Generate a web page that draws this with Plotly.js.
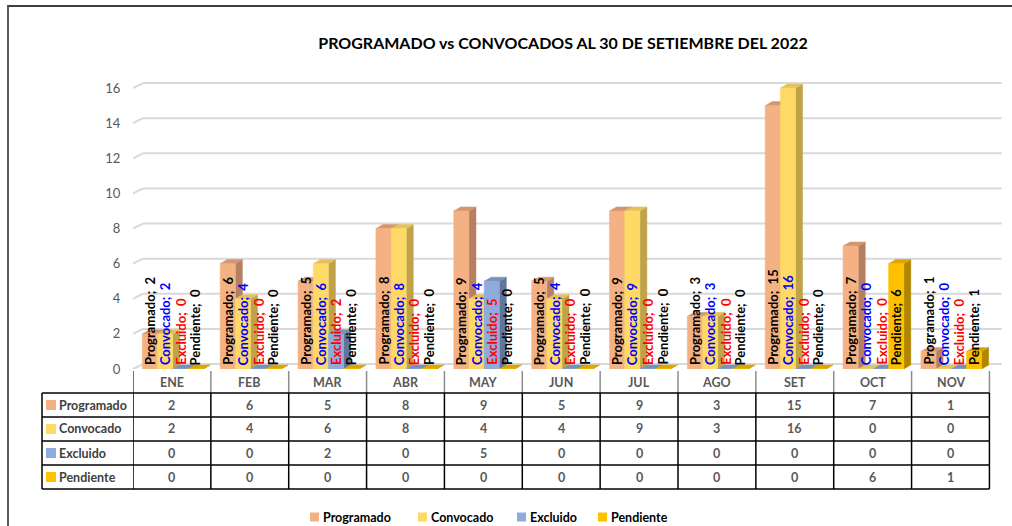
<!DOCTYPE html>
<html>
<head>
<meta charset="utf-8">
<script src="https://cdn.plot.ly/plotly-3.0.1.min.js"></script>
<style>
  html, body { margin: 0; padding: 0; background: #ffffff; }
  #wrap { position: relative; width: 1012px; height: 526px; overflow: hidden; }
  #chart { width: 1012px; height: 526px; }
  #frame { position: absolute; left: 7px; top: 5px; width: 1100px; height: 600px;
           border-top: 2px solid #3f3f3f; border-left: 2px solid #5a5a5a; pointer-events: none; }
</style>
</head>
<body>
<div id="wrap">
  <div id="chart"></div>
  <div id="frame"></div>
</div>
<script>
// ---------------- data ----------------
const months = ['ENE','FEB','MAR','ABR','MAY','JUN','JUL','AGO','SET','OCT','NOV'];
const programado = [2, 6, 5, 8, 9, 5, 9, 3, 15, 7, 1];
const convocado  = [2, 4, 6, 8, 4, 4, 9, 3, 16, 0, 0];
const excluido   = [0, 0, 2, 0, 5, 0, 0, 0, 0, 0, 0];
const pendiente  = [0, 0, 0, 0, 0, 0, 0, 0, 0, 6, 1];
const seriesNames = ['Programado', 'Convocado', 'Excluido', 'Pendiente'];
const yTickVals = [0, 2, 4, 6, 8, 10, 12, 14, 16];
const chartTitle = 'PROGRAMADO vs CONVOCADOS AL 30 DE SETIEMBRE DEL 2022';

// ---------------- styling ----------------
const seriesValues = [programado, convocado, excluido, pendiente];
const frontColors = ['#F4B183', '#FFD966', '#8FAADC', '#FFC000'];
const topColors   = ['#D39672', '#E3C25A', '#7890BA', '#DDA600'];
const sideColors  = ['#B58062', '#BFA24A', '#61769B', '#B08600'];
const labelColors = ['#000000', '#0000FF', '#FF0000', '#000000'];
const FONT = 'Lato, "Liberation Sans", sans-serif';

const W = 1012, H = 526;
const M = {l: 133, r: 7, t: 67, b: 157};
const plotW = W - M.l - M.r, plotH = H - M.t - M.b;
const X_RANGE = [-0.5, 10.7], Y_RANGE = [0, 17.2];
const pxX = p => (p - M.l) / plotW;            // pixel -> paper x
const pxY = p => (H - M.b - p) / plotH;        // pixel -> paper y

const BW = 0.195;      // bar width (data units)
const OFF0 = -0.38;    // left edge of first bar relative to category
const DX = 0.09, DZ = 0.23;          // bar depth
const GDX = 0.128, GDZ = 0.285;      // wall depth

const traces = [];
seriesValues.forEach((vals, s) => {
  const side = {x: [], y: []}, top = {x: [], y: []}, front = {x: [], y: []};
  vals.forEach((v, i) => {
    const x0 = i + OFF0 + s * BW, x1 = x0 + BW;
    side.x.push(x1, x1 + DX, x1 + DX, x1, x1, null);
    side.y.push(0, DZ, v + DZ, v, 0, null);
    top.x.push(x0, x1, x1 + DX, x0 + DX, x0, null);
    top.y.push(v, v, v + DZ, v + DZ, v, null);
    front.x.push(x0, x1, x1, x0, x0, null);
    front.y.push(0, 0, v, v, 0, null);
  });
  [[side, sideColors[s]], [top, topColors[s]], [front, frontColors[s]]].forEach(([p, c]) => {
    traces.push({
      type: 'scatter', mode: 'lines', x: p.x, y: p.y,
      fill: 'toself', fillcolor: c, line: {color: c, width: 0.5},
      hoverinfo: 'skip', showlegend: false, connectgaps: false
    });
  });
});

const shapes = [];
const annotations = [];

// back-wall gridlines
yTickVals.forEach(v => {
  shapes.push({type: 'line', xref: 'x', yref: 'y', x0: -0.5, y0: v, x1: -0.5 + GDX, y1: v + GDZ,
               line: {color: '#D9D9D9', width: 2}, layer: 'below'});
  shapes.push({type: 'line', xref: 'x', yref: 'y', x0: -0.5 + GDX, y0: v + GDZ, x1: 10.5 + GDX + 0.03, y1: v + GDZ,
               line: {color: '#D9D9D9', width: 2}, layer: 'below'});
});

// data labels
seriesValues.forEach((vals, s) => {
  vals.forEach((v, i) => {
    annotations.push({
      xref: 'x', yref: 'y', x: i + OFF0 + s * BW + BW / 2, y: 0,
      text: seriesNames[s] + ';  ' + v, textangle: -90, showarrow: false,
      xanchor: 'center', yanchor: 'bottom', yshift: 2,
      font: {family: FONT, size: 13, color: labelColors[s], weight: 'bold'}
    });
  });
});

// data table
const headTop = 369, rowLines = [393, 417, 441, 465, 489];
const tableLeft = 42;
for (let k = 0; k <= months.length; k++) {
  shapes.push({type: 'line', xref: 'x', yref: 'paper', x0: k - 0.5, x1: k - 0.5,
               y0: pxY(headTop + 2), y1: pxY(rowLines[0]), line: {color: k === 0 ? '#404040' : '#8C8C8C', width: 1.5}});
  shapes.push({type: 'line', xref: 'x', yref: 'paper', x0: k - 0.5, x1: k - 0.5,
               y0: pxY(rowLines[0]), y1: pxY(rowLines[4]), line: {color: '#000000', width: 1.5}});
}
shapes.push({type: 'line', xref: 'paper', yref: 'paper', x0: pxX(tableLeft), x1: pxX(tableLeft),
             y0: pxY(rowLines[0]), y1: pxY(rowLines[4]), line: {color: '#000000', width: 1.5}});
rowLines.forEach(r => {
  shapes.push({type: 'line', xref: 'paper', yref: 'paper', x0: pxX(tableLeft), x1: 10.5 / 1 === 10.5 ? pxX(M.l + 11 * plotW / 11.2) : 1,
               y0: pxY(r), y1: pxY(r), line: {color: '#000000', width: 1.5}});
});
months.forEach((m, i) => {
  annotations.push({xref: 'x', yref: 'paper', x: i, y: pxY(382), text: m, showarrow: false,
                    xanchor: 'center', yanchor: 'middle',
                    font: {family: FONT, size: 12.5, color: '#595959', weight: 'bold'}});
});
seriesValues.forEach((vals, s) => {
  const yc = (rowLines[s] + rowLines[s + 1]) / 2;
  shapes.push({type: 'rect', xref: 'paper', yref: 'paper', x0: pxX(46), x1: pxX(56),
               y0: pxY(yc - 5), y1: pxY(yc + 5), fillcolor: frontColors[s], line: {width: 0}});
  annotations.push({xref: 'paper', yref: 'paper', x: pxX(57), y: pxY(yc), text: seriesNames[s],
                    showarrow: false, xanchor: 'left', yanchor: 'middle',
                    font: {family: FONT, size: 12.5, color: '#404040', weight: 'bold'}});
  vals.forEach((v, i) => {
    annotations.push({xref: 'x', yref: 'paper', x: i, y: pxY(yc), text: String(v), showarrow: false,
                      xanchor: 'center', yanchor: 'middle',
                      font: {family: FONT, size: 12.5, color: '#595959', weight: 'bold'}});
  });
});

// legend (manual)
const legendX = [310, 418, 517, 598];
seriesNames.forEach((n, s) => {
  const yc = 517;
  shapes.push({type: 'rect', xref: 'paper', yref: 'paper', x0: pxX(legendX[s]), x1: pxX(legendX[s] + 9),
               y0: pxY(yc - 4.5), y1: pxY(yc + 4.5), fillcolor: frontColors[s], line: {width: 0}});
  annotations.push({xref: 'paper', yref: 'paper', x: pxX(legendX[s] + 11), y: pxY(yc), text: n,
                    showarrow: false, xanchor: 'left', yanchor: 'middle',
                    font: {family: FONT, size: 12.5, color: '#000000', weight: 'bold'}});
});

const layout = {
  width: W, height: H,
  margin: M,
  paper_bgcolor: '#ffffff', plot_bgcolor: 'rgba(0,0,0,0)',
  showlegend: false,
  title: {text: chartTitle, xref: 'container', yref: 'container', x: 563 / W, y: (H - 43) / H,
          xanchor: 'center', yanchor: 'middle',
          font: {family: FONT, size: 16, color: '#000000', weight: 'bold'}},
  xaxis: {range: X_RANGE, showgrid: false, zeroline: false, showticklabels: false, ticks: '',
          showline: false, fixedrange: true},
  yaxis: {range: Y_RANGE, tickvals: yTickVals, ticktext: yTickVals.map(String), showgrid: false,
          zeroline: false, showline: false, ticks: 'outside', ticklen: 9, tickcolor: 'rgba(0,0,0,0)',
          tickfont: {family: FONT, size: 13, color: '#595959'}, fixedrange: true},
  shapes: shapes,
  annotations: annotations
};

Plotly.newPlot('chart', traces, layout, {staticPlot: true});
</script>
</body>
</html>
